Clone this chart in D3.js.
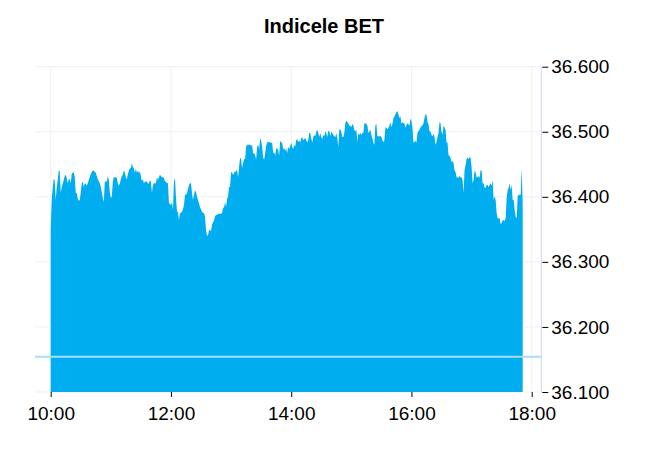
<!DOCTYPE html>
<html>
<head>
<meta charset="utf-8">
<script src="https://cdn.jsdelivr.net/npm/d3@7/dist/d3.min.js"></script>
<style>
html,body{margin:0;padding:0;background:#fff;}
svg{display:block;}
text{font-family:"Liberation Sans",Arial,Helvetica,sans-serif;}
</style>
</head>
<body>
<svg id="chart" width="650" height="450"></svg>
<script>
const title = "Indicele BET";
const startTime = "10:00";          // first sample, one sample per minute
const xTickLabels = ["10:00","12:00","14:00","16:00","18:00"];
const yTickValues = [36100,36200,36300,36400,36500,36600];
const previousClose = 36154;
const values = [
36349,36395,36414,36427,36426,36395,36414,36426,36440,36440,
36406,36415,36420,36426,36432,36434,36429,36421,36427,36427,
36421,36435,36437,36438,36430,36406,36406,36397,36394,36395,
36407,36421,36423,36415,36421,36420,36417,36421,36426,36430,
36435,36438,36441,36440,36438,36437,36432,36427,36424,36421,
36415,36407,36398,36392,36423,36424,36423,36432,36426,36407,
36398,36400,36423,36430,36430,36430,36429,36421,36417,36421,
36427,36432,36434,36440,36438,36430,36427,36435,36440,36444,
36444,36452,36446,36444,36437,36443,36437,36440,36437,36438,
36432,36424,36427,36421,36423,36424,36423,36421,36420,36426,
36423,36406,36418,36421,36421,36421,36430,36426,36430,36434,
36432,36430,36430,36429,36424,36423,36421,36421,36390,36389,
36387,36392,36380,36423,36429,36400,36377,36377,36364,36375,
36375,36377,36381,36387,36403,36403,36406,36412,36418,36421,
36421,36406,36395,36403,36410,36407,36400,36395,36390,36384,
36381,36377,36375,36375,36369,36349,36340,36341,36349,36349,
36347,36357,36361,36364,36370,36372,36372,36374,36374,36374,
36374,36375,36383,36384,36392,36384,36397,36400,36415,36415,
36438,36437,36434,36437,36438,36440,36441,36430,36446,36460,
36458,36444,36452,36458,36458,36477,36480,36480,36480,36480,
36478,36480,36467,36467,36464,36457,36477,36480,36473,36490,
36486,36477,36460,36457,36467,36478,36484,36484,36484,36484,
36483,36483,36467,36469,36463,36473,36475,36472,36463,36486,
36484,36483,36473,36475,36470,36475,36467,36477,36473,36478,
36483,36477,36473,36480,36477,36487,36489,36484,36487,36483,
36490,36492,36487,36489,36490,36487,36484,36486,36498,36498,
36490,36483,36492,36495,36493,36500,36503,36498,36492,36498,
36492,36489,36495,36493,36500,36498,36492,36501,36501,36493,
36500,36498,36495,36493,36492,36498,36490,36477,36503,36504,
36500,36492,36492,36498,36513,36517,36515,36513,36509,36510,
36507,36512,36510,36503,36500,36504,36484,36498,36495,36498,
36495,36498,36498,36513,36513,36512,36510,36498,36500,36503,
36495,36490,36483,36480,36510,36512,36493,36493,36493,36493,
36492,36487,36484,36487,36507,36506,36504,36506,36509,36515,
36507,36512,36521,36523,36527,36530,36532,36527,36521,36524,
36512,36515,36513,36513,36506,36510,36513,36512,36509,36520,
36517,36506,36484,36484,36486,36483,36498,36501,36503,36506,
36509,36510,36513,36521,36527,36526,36515,36512,36501,36500,
36495,36493,36497,36492,36480,36484,36492,36498,36515,36513,
36500,36495,36509,36507,36503,36484,36483,36464,36463,36460,
36453,36455,36452,36441,36438,36430,36430,36429,36432,36430,
36430,36426,36406,36441,36449,36458,36460,36458,36461,36460,
36446,36421,36426,36440,36438,36430,36430,36432,36429,36441,
36441,36421,36421,36414,36414,36418,36418,36415,36418,36421,
36417,36426,36395,36401,36395,36375,36367,36367,36367,36358,
36360,36364,36364,36363,36367,36398,36410,36414,36421,36410,
36418,36395,36395,36380,36369,36367,36401,36403,36403,36403,
36444,36390
];

const parseT = d3.timeParse("%Y-%m-%d %H:%M");
const t0 = parseT("2024-01-01 " + startTime);
const data = values.map((v, i) => ({ t: d3.timeMinute.offset(t0, i), v }));
const xTicks = xTickLabels.map(s => parseT("2024-01-01 " + s));

const svg = d3.select("#chart");
const plotLeft = 35, plotRight = 541.3, plotTop = 66.7, plotBottom = 392;

const x = d3.scaleTime().domain([xTicks[0], xTicks[xTicks.length - 1]]).range([50.7, 531.7]);
const y = d3.scaleLinear().domain([yTickValues[0], yTickValues[yTickValues.length - 1]]).range([plotBottom, plotTop]);

const fmt = d3.formatLocale({ decimal: ",", thousands: ".", grouping: [3], currency: ["", " lei"] }).format(",.0f");

// gridlines
const grid = svg.append("g");
grid.selectAll("line.h").data(yTickValues).join("line")
  .attr("x1", plotLeft).attr("x2", plotRight)
  .attr("y1", d => y(d)).attr("y2", d => y(d))
  .attr("stroke", "#f0f0f0").attr("stroke-width", 1);
grid.selectAll("line.v").data(xTicks).join("line")
  .attr("x1", d => x(d)).attr("x2", d => x(d))
  .attr("y1", plotTop).attr("y2", plotBottom)
  .attr("stroke", "#f0f0f0").attr("stroke-width", 1);

// area
const area = d3.area().x(d => x(d.t)).y0(y(yTickValues[0])).y1(d => y(d.v));
svg.append("path").datum(data).attr("d", area).attr("fill", "#00adef");

// previous close line
svg.append("line")
  .attr("x1", plotLeft).attr("x2", plotRight)
  .attr("y1", y(previousClose)).attr("y2", y(previousClose))
  .attr("stroke", "#a9def6").attr("stroke-width", 2);

// right axis
const yAxis = d3.axisRight(y).tickValues(yTickValues).tickSize(6).tickPadding(3).tickFormat(fmt);
const gy = svg.append("g").attr("transform", `translate(${plotRight},0)`).call(yAxis);
gy.select(".domain").attr("stroke", "#ccd6eb").attr("d", `M0,${plotTop}V${plotBottom}`);
gy.selectAll(".tick line").attr("stroke", "#000").attr("x1", 1).attr("x2", 7);
gy.selectAll(".tick text").attr("x", 10).attr("font-size", "19px").attr("fill", "#000")
  .attr("font-family", "'Liberation Sans',Arial,sans-serif");

// bottom axis
const xAxis = d3.axisBottom(x).tickValues(xTicks).tickSize(5).tickPadding(10).tickFormat(d3.timeFormat("%H:%M"));
const gx = svg.append("g").attr("transform", `translate(0,${plotBottom})`).call(xAxis);
gx.select(".domain").remove();
gx.selectAll(".tick line").attr("stroke", "#000");
gx.selectAll(".tick text").attr("font-size", "19px").attr("fill", "#000")
  .attr("font-family", "'Liberation Sans',Arial,sans-serif");

// title
svg.append("text").attr("x", 324).attr("y", 33).attr("text-anchor", "middle")
  .attr("font-size", "20px").attr("font-weight", "bold").attr("fill", "#000").text(title);
</script>
</body>
</html>
